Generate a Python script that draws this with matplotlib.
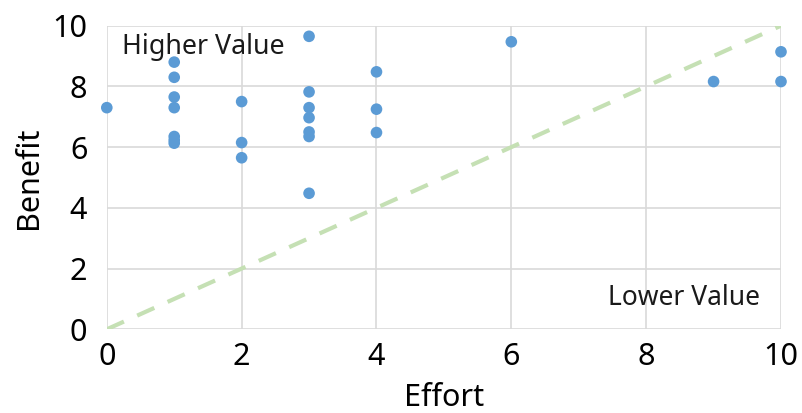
import matplotlib
matplotlib.use("Agg")
import matplotlib.pyplot as plt

# Data
effort = [0, 1, 1, 1, 1, 1, 1, 1,
          2, 2, 2,
          3, 3, 3, 3, 3, 3, 3,
          4, 4, 4,
          6, 9, 10, 10]
benefit = [7.3, 8.8, 8.3, 7.65, 7.3, 6.35, 6.23, 6.13,
           7.5, 6.15, 5.65,
           9.65, 7.82, 7.3, 6.97, 6.5, 6.35, 4.48,
           8.48, 7.25, 6.48,
           9.47, 8.16, 9.14, 8.16]
diag_x = [0, 10]
diag_y = [0, 10]
ticks = [0, 2, 4, 6, 8, 10]

plt.rcParams['font.family'] = ['Noto Sans', 'DejaVu Sans']

fig = plt.figure(figsize=(8.03, 4.13), dpi=100)
ax = fig.add_axes([0.133, 0.2027, 0.8396, 0.7351])

ax.plot(diag_x, diag_y, linestyle=(0, (4.5, 3.5)), color='#c5e0b4', lw=3, zorder=2)
ax.scatter(effort, benefit, s=70, color='#5b9bd5', edgecolors='none', zorder=3, clip_on=False)

ax.set_xlim(0, 10)
ax.set_ylim(0, 10)
ax.set_xticks(ticks)
ax.set_yticks(ticks)
ax.grid(True, color='#d9d9d9', lw=1.2)
ax.set_axisbelow(True)
for s in ax.spines.values():
    s.set_visible(False)
ax.tick_params(length=0, labelsize=22, colors='black', pad=9)
ax.tick_params(axis='y', pad=14)

ax.set_xlabel('Effort', fontsize=22, labelpad=8)
ax.set_ylabel('Benefit', fontsize=22, labelpad=6)

ax.text(0.22, 9.31, 'Higher Value', fontsize=19.3, va='center', ha='left', color='#1a1a1a')
ax.text(7.43, 1.03, 'Lower Value', fontsize=19, va='center', ha='left', color='#1a1a1a')

fig.savefig('out.png', dpi=100)
